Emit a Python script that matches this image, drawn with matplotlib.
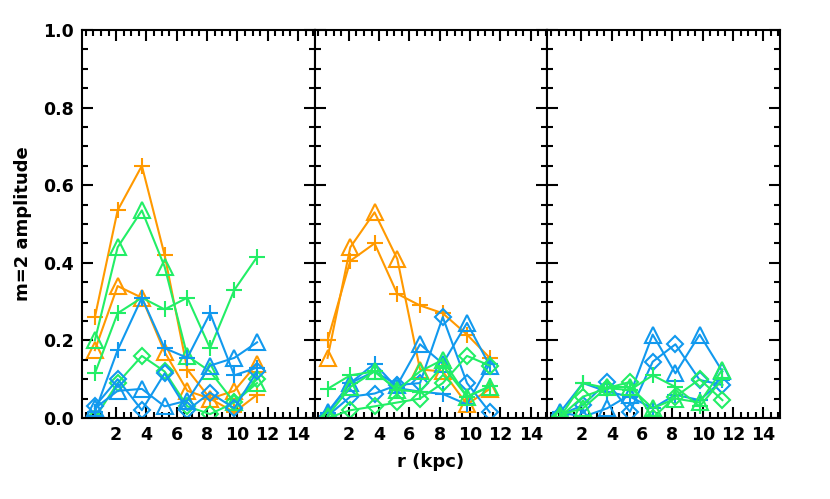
import matplotlib.pyplot as plt
from matplotlib.ticker import MultipleLocator

ORANGE = '#ff9900'
GREEN = '#22ee66'
BLUE = '#1199ee'

r = [0.6, 2.1, 3.7, 5.2, 6.7, 8.2, 9.8, 11.3]

# panel 1
p1_orange_plus = [0.26, 0.535, 0.65, 0.42, 0.125, 0.05, 0.015, 0.06]
p1_orange_tri = [0.175, 0.34, 0.31, 0.17, 0.07, 0.05, 0.07, 0.14]
p1_green_tri = [0.20, 0.44, 0.535, 0.39, 0.16, 0.12, 0.04, 0.09]
p1_green_plus = [0.115, 0.27, 0.31, 0.28, 0.31, 0.18, 0.33, 0.415]
p1_green_dia = [0.0, 0.09, 0.16, 0.12, 0.03, 0.01, 0.04, 0.10]
p1_blue_plus = [0.015, 0.175, 0.31, 0.18, 0.155, 0.27, 0.11, 0.13]
p1_blue_tri = [0.025, 0.07, 0.075, 0.03, 0.045, 0.135, 0.155, 0.195]
p1_blue_dia = [0.03, 0.10, 0.02, 0.115, 0.02, 0.065, 0.025, 0.12]

# panel 2
p2_orange_plus = [0.20, 0.405, 0.45, 0.32, 0.29, 0.27, 0.215, 0.155]
p2_orange_tri = [0.155, 0.44, 0.53, 0.41, 0.125, 0.12, 0.035, 0.075]
p2_blue_tri = [0.015, 0.09, 0.12, 0.085, 0.19, 0.14, 0.245, 0.135]
p2_blue_dia = [0.005, 0.055, 0.063, 0.085, 0.09, 0.26, 0.09, 0.015]
p2_blue_plus = [0.012, 0.09, 0.14, 0.077, 0.068, 0.062, 0.035, 0.14]
p2_green_plus = [0.075, 0.11, 0.12, 0.072, 0.068, 0.135, 0.055, 0.082]
p2_green_dia = [0.0, 0.02, 0.03, 0.04, 0.05, 0.09, 0.16, 0.135]
p2_green_tri = [0.005, 0.08, 0.12, 0.072, 0.12, 0.15, 0.055, 0.08]

# panel 3
p3_blue_tri = [0.015, 0.003, 0.025, 0.06, 0.215, 0.115, 0.215, 0.12]
p3_blue_dia = [0.008, 0.033, 0.093, 0.016, 0.145, 0.19, 0.098, 0.085]
p3_blue_plus = [0.015, 0.09, 0.068, 0.055, 0.025, 0.06, 0.046, 0.097]
p3_green_plus = [0.003, 0.09, 0.077, 0.072, 0.11, 0.08, 0.03, 0.10]
p3_green_dia = [0.003, 0.055, 0.077, 0.093, 0.0, 0.055, 0.10, 0.046]
p3_green_tri = [0.008, 0.025, 0.08, 0.08, 0.025, 0.05, 0.04, 0.125]

panels = [
    [(p1_orange_plus, ORANGE, '+'), (p1_orange_tri, ORANGE, '^'),
     (p1_green_tri, GREEN, '^'), (p1_green_plus, GREEN, '+'),
     (p1_green_dia, GREEN, 'D'), (p1_blue_plus, BLUE, '+'),
     (p1_blue_tri, BLUE, '^'), (p1_blue_dia, BLUE, 'D')],
    [(p2_orange_plus, ORANGE, '+'), (p2_orange_tri, ORANGE, '^'),
     (p2_blue_tri, BLUE, '^'), (p2_blue_dia, BLUE, 'D'),
     (p2_blue_plus, BLUE, '+'), (p2_green_plus, GREEN, '+'),
     (p2_green_dia, GREEN, 'D'), (p2_green_tri, GREEN, '^')],
    [(p3_blue_tri, BLUE, '^'), (p3_blue_dia, BLUE, 'D'),
     (p3_blue_plus, BLUE, '+'), (p3_green_plus, GREEN, '+'),
     (p3_green_dia, GREEN, 'D'), (p3_green_tri, GREEN, '^')],
]

fig = plt.figure(figsize=(8.3, 4.99), dpi=100)
left, right, bottom, top = 82 / 830, 780 / 830, 1 - 418 / 499, 1 - 30 / 499
w = (right - left) / 3

for i, series in enumerate(panels):
    ax = fig.add_axes([left + i * w, bottom, w, top - bottom])
    for vals, col, mk in series:
        ms = {'+': 11, '^': 11, 'D': 8}[mk]
        ax.plot(r, vals, color=col, marker=mk, markersize=ms, lw=1.5,
                markerfacecolor='none', markeredgecolor=col, markeredgewidth=1.5)
    ax.set_xlim(-0.25, 15.1)
    ax.set_ylim(0, 1.0)
    ax.xaxis.set_minor_locator(MultipleLocator(0.5))
    ax.yaxis.set_major_locator(MultipleLocator(0.2))
    ax.yaxis.set_minor_locator(MultipleLocator(0.05))
    ax.set_xticks([2, 4, 6, 8, 10, 12, 14])
    ax.tick_params(which='both', direction='in', top=True, right=True, width=1.5)
    ax.tick_params(which='major', length=8, labelsize=12.5, pad=6)
    ax.tick_params(which='minor', length=4)
    for s in ax.spines.values():
        s.set_linewidth(1.5)
    for lab in ax.get_xticklabels() + ax.get_yticklabels():
        lab.set_fontweight('bold')
    if i == 0:
        ax.set_ylabel('m=2 amplitude', fontsize=13, fontweight='bold', labelpad=8)
    else:
        ax.set_yticklabels([])
    if i == 1:
        ax.set_xlabel('r (kpc)', fontsize=13, fontweight='bold', labelpad=6)

plt.savefig('out.png', dpi=100)
